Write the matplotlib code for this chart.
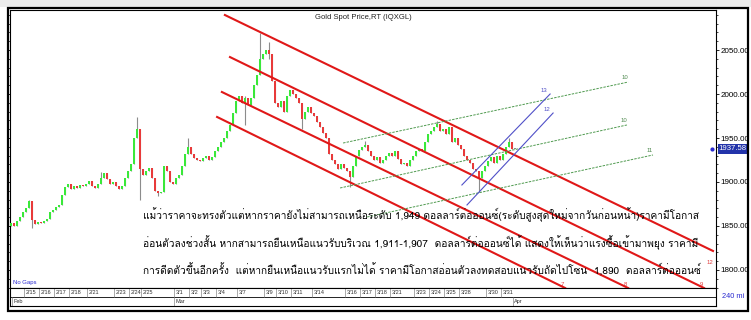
import matplotlib
matplotlib.use('Agg')
import matplotlib.pyplot as plt
import matplotlib.transforms as mtransforms
from matplotlib import font_manager
from matplotlib.ft2font import FT2Font
from matplotlib.patches import Rectangle
import numpy as np

# 240-minute candles, Gold Spot (IQXGL), closes
closes = [1853, 1850, 1856, 1860, 1866, 1870, 1878, 1857, 1852, 1855,
          1853, 1856, 1858, 1866, 1868, 1872, 1874, 1885, 1894, 1898,
          1892, 1896, 1893, 1897, 1895, 1898, 1901, 1896, 1893, 1898,
          1905, 1910, 1903, 1898, 1900, 1895, 1892, 1895, 1905, 1912,
          1920, 1950, 1960, 1915, 1908, 1912, 1916, 1905, 1890, 1887,
          1889, 1918, 1912, 1900, 1898, 1904, 1908, 1918, 1932, 1940,
          1932, 1927, 1925, 1924, 1927, 1929, 1925, 1928, 1935, 1940,
          1946, 1950, 1958, 1965, 1978, 1992, 1998, 1990, 1995, 1988,
          1996, 2010, 2022, 2040, 2045, 2050, 2046, 2015, 1990, 1985,
          1992, 1980, 1998, 2005, 2000, 1995, 1990, 1972, 1980, 1985,
          1978, 1975, 1968, 1962, 1956, 1950, 1932, 1925, 1920, 1915,
          1920, 1916, 1912, 1906, 1918, 1930, 1936, 1940, 1942, 1935,
          1930, 1925, 1928, 1922, 1925, 1930, 1933, 1930, 1935, 1926,
          1920, 1922, 1918, 1925, 1930, 1935, 1938, 1935, 1945, 1955,
          1958, 1962, 1966, 1958, 1960, 1955, 1962, 1945, 1950, 1942,
          1938, 1930, 1925, 1922, 1915, 1912, 1905, 1912, 1918, 1924,
          1928, 1922, 1930, 1925, 1932, 1940, 1945, 1938, 1937.58]
first_open = 1850
# candles with visible wicks: index -> (high, low)
wicks = {6: (1880, 1870), 7: (1878, 1848), 30: (1911, 1898), 42: (1974, 1950),
         43: (1960, 1880), 49: (1890, 1884), 59: (1950, 1932), 78: (1998, 1965),
         83: (2069, 2022), 86: (2059, 2040), 97: (1990, 1960), 113: (1912, 1894),
         118: (1947, 1940), 142: (1969, 1962), 156: (1912, 1889), 166: (1950, 1940)}
last_price = 1937.58

day_labels = ['2/15', '2/16', '2/17', '2/18', '2/21', '2/23', '2/24', '2/25',
              '3/1', '3/2', '3/3', '3/4', '3/7', '3/9', '3/10', '3/11', '3/14',
              '3/16', '3/17', '3/18', '3/21', '3/23', '3/24', '3/25', '3/28',
              '3/30', '3/31']
day_start = [5, 10, 15, 20, 26, 35, 40, 44, 55, 60, 64, 69, 76, 85, 89, 94, 101,
             112, 117, 122, 127, 135, 140, 145, 150, 159, 164]
month_labels = ['Feb', 'Mar', 'Apr']
month_start = [1, 55, 168]

# trend lines: (x0, y0, x1, y1, label)
red_lines = [(71.3, 2089.8, 234.0, 1821.6, '12'),
             (73.0, 2042.0, 231.0, 1779.5, '9'),
             (70.3, 2002.3, 205.7, 1779.5, '8'),
             (68.7, 1973.9, 184.7, 1779.5, '7')]
green_lines = [(110.7, 1944.3, 205.7, 2013.6, '10'),
               (109.7, 1893.2, 205.3, 1964.8, '10'),
               (118.7, 1860.2, 214.0, 1930.7, '11')]
blue_lines = [(150.3, 1896.6, 179.7, 2000.0, '13'),
              (152.0, 1873.9, 180.7, 1978.4, '12')]

comment = [
    'แม้ว่าราคาจะทรงตัวแต่หากราคายังไม่สามารถเหนือระดับ 1,949 ดอลลาร์ต่อออนซ์(ระดับสูงสุดใหม่จากวันก่อนหน้า)ราคามีโอกาส',
    'อ่อนตัวลงช่วงสั้น หากสามารถยืนเหนือแนวรับบริเวณ 1,911-1,907  ดอลลาร์ต่อออนซ์ได้ แสดงให้เห็นว่าแรงซื้อเข้ามาพยุง ราคามี',
    'การดีดตัวขึ้นอีกครั้ง  แต่หากยืนเหนือแนวรับแรกไม่ได้ ราคามีโอกาสอ่อนตัวลงทดสอบแนวรับถัดไปโซน  1,890  ดอลลาร์ต่อออนซ์',
]


def font_with(ch, fallback='DejaVu Sans'):
    for f in font_manager.fontManager.ttflist:
        try:
            if ord(ch) in FT2Font(f.fname).get_charmap():
                return f.name
        except Exception:
            pass
    return fallback


thai_font = font_with('ก')
names = {f.name for f in font_manager.fontManager.ttflist}
narrow = 'Liberation Sans Narrow' if 'Liberation Sans Narrow' in names else 'Liberation Sans'

W, H = 751, 320
fig = plt.figure(figsize=(W / 100, H / 100), dpi=100)
fig.patch.set_facecolor('white')


def px_box(x0, y0, x1, y1):
    return [x0 / W, 1 - y1 / H, (x1 - x0) / W, (y1 - y0) / H]


# grey strip at the top and the outer frame
fig.patches.append(Rectangle((0, 1 - 7 / H), 1, 7 / H, transform=fig.transFigure,
                             facecolor='#ececec', edgecolor='none'))
fig.patches.append(Rectangle((8 / W, 1 - 311 / H), 740 / W, 303 / H, transform=fig.transFigure,
                             facecolor='none', edgecolor='black', linewidth=1.6))

ax = fig.add_axes(px_box(10, 10, 716, 288))
ax.set_xlim(-0.33, 235)
ax.set_ylim(1779.5, 2095.5)

n = len(closes)
opens = [first_open] + closes[:-1]
for i in range(n):
    o, c = opens[i], closes[i]
    hi, lo = wicks.get(i, (max(o, c), min(o, c)))
    ax.vlines(i, lo, hi, color='#8c8c8c', linewidth=0.8, zorder=2)
    body = c - o
    if abs(body) < 0.8:
        col = '#8c8c8c'
        body = 0.8
    else:
        col = '#3ae83a' if body > 0 else '#e83a3a'
    ax.bar(i, body, bottom=o, width=0.72, color=col, linewidth=0, zorder=3)

small = dict(fontsize=4.3, family=narrow, ha='center', va='bottom')
for x0, y0, x1, y1, lab in red_lines:
    ax.plot([x0, x1], [y0, y1], color='#e01818', linewidth=1.5, zorder=4)
    ax.text(x1 - 1, max(y1 - 16, 1781), lab, color='#e04040', **small)
for x0, y0, x1, y1, lab in green_lines:
    ax.plot([x0, x1], [y0, y1], color='#4f9a4f', linewidth=0.7, linestyle=(0, (2.5, 1.2)), zorder=4)
    ax.text(x1 - 1, y1 + 2, lab, color='#4f8a4f', **small)
for x0, y0, x1, y1, lab in blue_lines:
    ax.plot([x0, x1], [y0, y1], color='#5050c8', linewidth=0.8, zorder=4)
    ax.text(x1 - 2, y1 + 1, lab, color='#5050c8', **small)

ax.set_xticks([])
ax.yaxis.tick_right()
ax.set_yticks(np.arange(1800, 2051, 50))
ax.set_yticklabels(['%.2f' % v for v in np.arange(1800, 2051, 50)], family=narrow, fontsize=5.8)
ax.set_yticks(np.arange(1780, 2096, 10), minor=True)
ax.tick_params(axis='y', which='major', length=2, width=0.6, pad=1.5, right=True, left=True)
ax.tick_params(axis='y', which='minor', length=1.5, width=0.5, right=True, left=True)
for s in ax.spines.values():
    s.set_linewidth(0.8)

ax.text(0.5, 0.985, 'Gold Spot Price,RT (IQXGL)', transform=ax.transAxes, ha='center', va='top',
        fontsize=5.5, family=narrow, color='#222222')
ax.text(0.004, 0.01, 'No Gaps', transform=ax.transAxes, ha='left', va='bottom',
        fontsize=4.3, family=narrow, color='#2a2ad0')

trans = mtransforms.blended_transform_factory(ax.transAxes, ax.transData)
ax.plot([0.995], [last_price], marker='o', markersize=2, color='#2a2ad0', transform=trans,
        clip_on=False, zorder=6)
ax.text(1.004, last_price, '%.2f' % last_price, transform=trans, ha='left', va='center',
        fontsize=5.6, family=narrow, color='white',
        bbox=dict(boxstyle='square,pad=0.15', facecolor='#2233aa', edgecolor='none'), zorder=7)

texts = []
for k, line in enumerate(comment):
    texts.append(ax.text(0.188, 0.263 - k * 0.099, line, transform=ax.transAxes, ha='left',
                         va='center', fontsize=10, family=[thai_font, 'DejaVu Sans'],
                         color='black', zorder=8))

# date strip
dax = fig.add_axes(px_box(10, 288, 716, 306), sharex=ax)
dax.set_ylim(0, 2)
dax.set_yticks([])
dax.tick_params(axis='x', bottom=False, labelbottom=False)
dax.axhline(1, color='black', linewidth=0.6)
for s in dax.spines.values():
    s.set_linewidth(0.8)
for p, lab in zip(day_start, day_labels):
    dax.vlines(p - 0.8, 1, 2, color='#888888', linewidth=0.5)
    dax.text(p - 0.2, 1.5, lab, ha='left', va='center', fontsize=4.0, family=narrow, color='#333333')
for p, lab in zip(month_start, month_labels):
    dax.vlines(p - 0.8, 0, 1, color='#888888', linewidth=0.5)
    dax.text(p - 0.2, 0.5, lab, ha='left', va='center', fontsize=4.0, family=narrow, color='#333333')

fig.text(722 / W, 1 - 297 / H, '240 mi', ha='left', va='center', fontsize=5.3, family=narrow,
         color='#2a2ad0')

# fit the comment block to the width it takes in the reference (143..700 px)
fig.canvas.draw()
r = fig.canvas.get_renderer()
w = texts[0].get_window_extent(r).width
for t in texts:
    t.set_fontsize(10 * 557.0 / w)

fig.savefig('out.png', dpi=100)
